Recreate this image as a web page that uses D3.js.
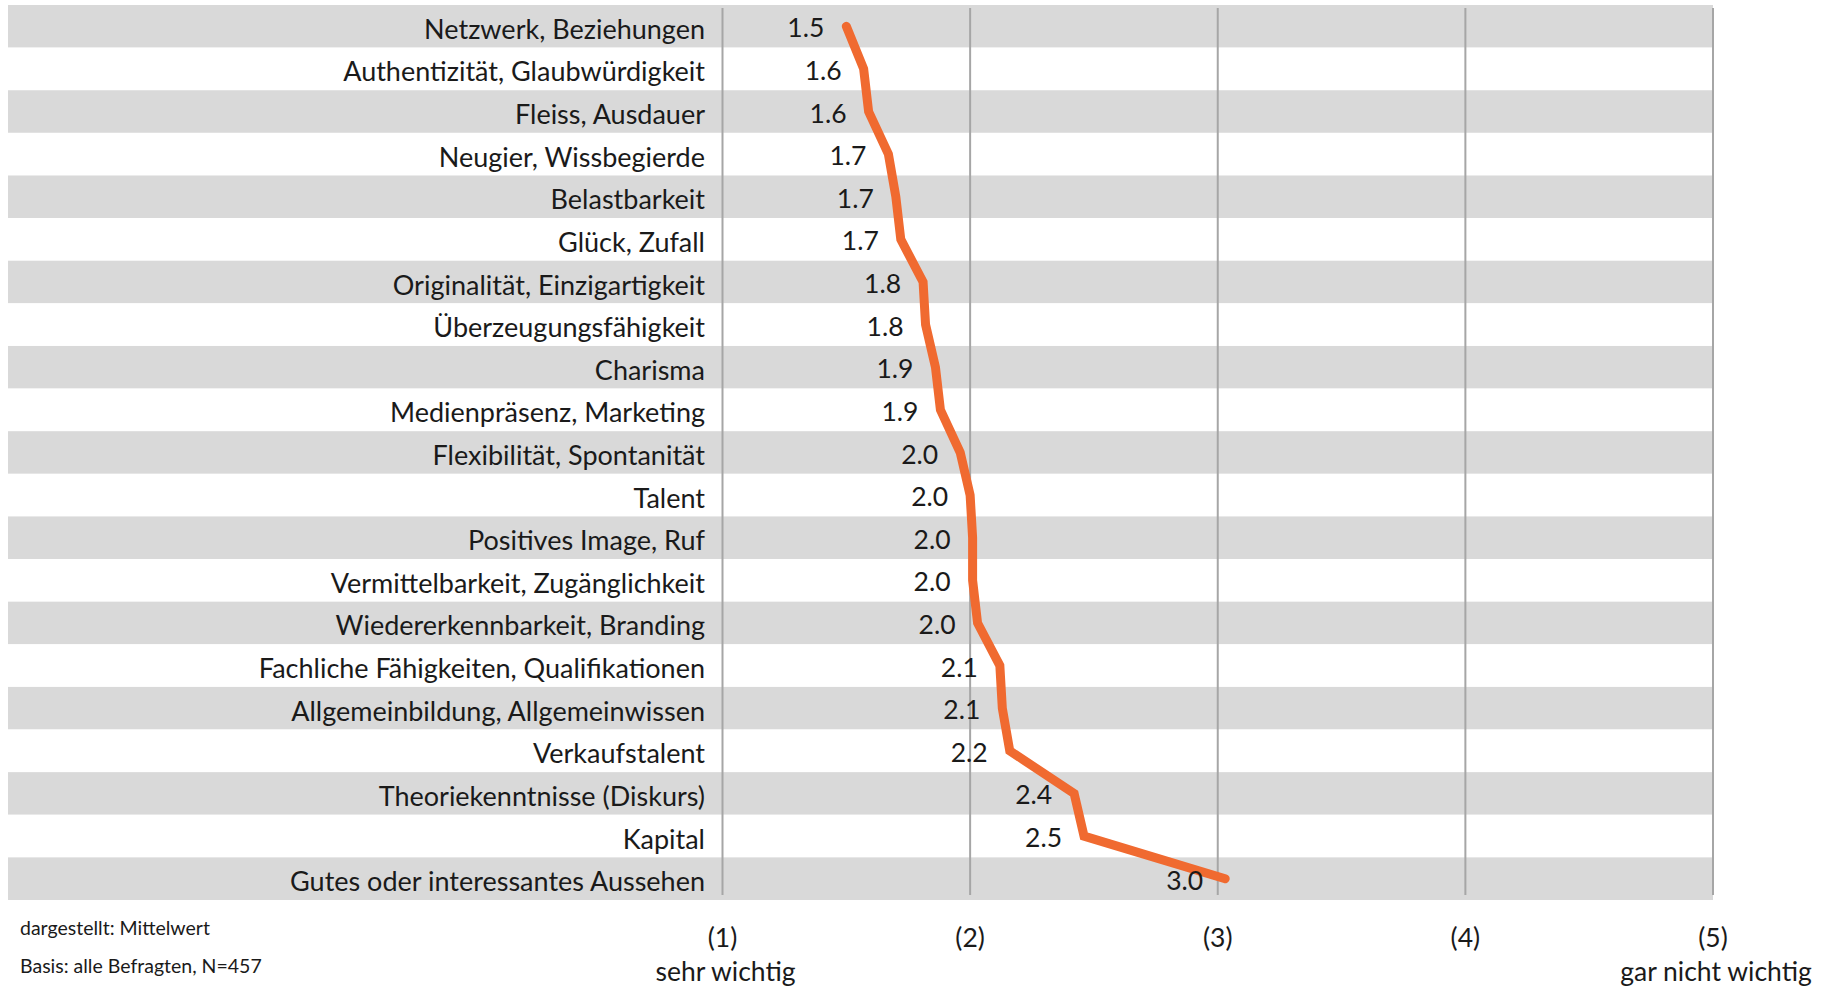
<!DOCTYPE html>
<html>
<head>
<meta charset="utf-8">
<script src="https://cdn.jsdelivr.net/npm/d3@7"></script>
<style>
  html, body { margin: 0; padding: 0; background: #ffffff; overflow: hidden; }
  svg { display: block; }
</style>
</head>
<body>
<svg id="chart" width="1827" height="986"></svg>
<script>
const categories = [
  "Netzwerk, Beziehungen",
  "Authentizität, Glaubwürdigkeit",
  "Fleiss, Ausdauer",
  "Neugier, Wissbegierde",
  "Belastbarkeit",
  "Glück, Zufall",
  "Originalität, Einzigartigkeit",
  "Überzeugungsfähigkeit",
  "Charisma",
  "Medienpräsenz, Marketing",
  "Flexibilität, Spontanität",
  "Talent",
  "Positives Image, Ruf",
  "Vermittelbarkeit, Zugänglichkeit",
  "Wiedererkennbarkeit, Branding",
  "Fachliche Fähigkeiten, Qualifikationen",
  "Allgemeinbildung, Allgemeinwissen",
  "Verkaufstalent",
  "Theoriekenntnisse (Diskurs)",
  "Kapital",
  "Gutes oder interessantes Aussehen"
];
const meanValues = [1.50, 1.57, 1.59, 1.67, 1.70, 1.72, 1.81, 1.82, 1.86, 1.88, 1.96, 2.00, 2.01, 2.01, 2.03, 2.12, 2.13, 2.16, 2.42, 2.46, 3.03];
const tickValues = [1, 2, 3, 4, 5];
const tickLabels = ["(1)", "(2)", "(3)", "(4)", "(5)"];
const tickSubLabels = ["sehr wichtig", "", "", "", "gar nicht wichtig"];
const footnotes = ["dargestellt: Mittelwert", "Basis: alle Befragten, N=457"];

const FONT = "Lato, 'Open Sans', sans-serif";
const svg = d3.select("#chart");

const x = d3.scaleLinear().domain([1, 5]).range([722.5, 1713]);
const y = d3.scaleBand().domain(categories).range([5, 900]).padding(0);

// alternating bands
svg.append("g").selectAll("rect")
  .data(categories)
  .join("rect")
  .attr("x", 8)
  .attr("y", d => y(d))
  .attr("width", 1713 - 8)
  .attr("height", y.bandwidth())
  .attr("fill", (d, i) => i % 2 === 0 ? "#d9d9d9" : "#ffffff");

// gridlines
svg.append("g").selectAll("line")
  .data(tickValues)
  .join("line")
  .attr("x1", d => x(d)).attr("x2", d => x(d))
  .attr("y1", 8).attr("y2", 895)
  .attr("stroke", "#a6a6a6")
  .attr("stroke-width", 2);

// category labels
svg.append("g").selectAll("text")
  .data(categories)
  .join("text")
  .attr("x", 705)
  .attr("y", d => y(d) + y.bandwidth() / 2 + 2)
  .attr("text-anchor", "end")
  .attr("dominant-baseline", "central")
  .attr("font-family", FONT)
  .attr("font-size", 27)
  .attr("fill", "#1a1a1a")
  .text(d => d);

// line
const line = d3.line()
  .x(d => x(d.v))
  .y(d => y(d.c) + y.bandwidth() / 2);
const pts = categories.map((c, i) => ({ c, v: meanValues[i] }));
svg.append("path")
  .datum(pts)
  .attr("d", line)
  .attr("fill", "none")
  .attr("stroke", "#f06a30")
  .attr("stroke-width", 9)
  .attr("stroke-linejoin", "miter")
  .attr("stroke-linecap", "round");

// data labels
svg.append("g").selectAll("text")
  .data(pts)
  .join("text")
  .attr("x", d => x(d.v) - 22)
  .attr("y", d => y(d.c) + y.bandwidth() / 2 + 1)
  .attr("text-anchor", "end")
  .attr("dominant-baseline", "central")
  .attr("font-family", FONT)
  .attr("font-size", 26.5)
  .attr("fill", "#1a1a1a")
  .text(d => d.v.toFixed(1));

// x axis labels
const ax = svg.append("g");
ax.selectAll("text.t")
  .data(tickValues)
  .join("text")
  .attr("class", "t")
  .attr("x", d => x(d))
  .attr("y", 937)
  .attr("text-anchor", "middle")
  .attr("dominant-baseline", "central")
  .attr("font-family", FONT)
  .attr("font-size", 26.5)
  .attr("fill", "#1a1a1a")
  .text((d, i) => tickLabels[i]);
ax.selectAll("text.s")
  .data(tickValues)
  .join("text")
  .attr("class", "s")
  .attr("x", d => x(d) + 3)
  .attr("y", 971)
  .attr("text-anchor", "middle")
  .attr("dominant-baseline", "central")
  .attr("font-family", FONT)
  .attr("font-size", 26.5)
  .attr("fill", "#1a1a1a")
  .text((d, i) => tickSubLabels[i]);

// footnotes
svg.append("g").selectAll("text")
  .data(footnotes)
  .join("text")
  .attr("x", 20)
  .attr("y", (d, i) => 927 + i * 38)
  .attr("dominant-baseline", "central")
  .attr("font-family", FONT)
  .attr("font-size", 19.5)
  .attr("fill", "#1a1a1a")
  .text(d => d);
</script>
</body>
</html>
